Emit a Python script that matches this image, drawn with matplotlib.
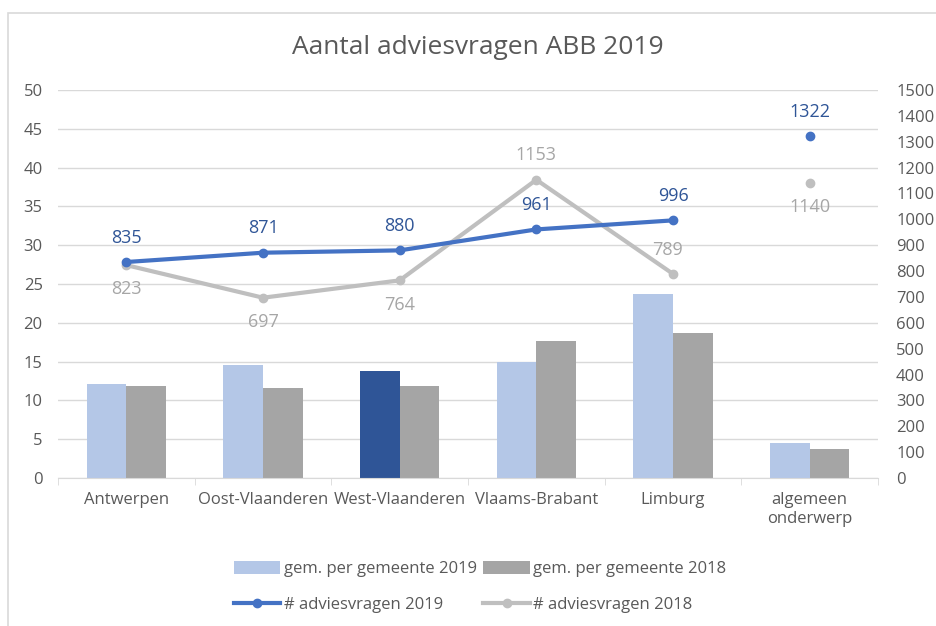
import numpy as np
import matplotlib
matplotlib.use("Agg")
import matplotlib.pyplot as plt
from matplotlib.patches import Rectangle

plt.rcParams['font.family'] = ['Open Sans', 'DejaVu Sans']

# data
categories = ["Antwerpen", "Oost-Vlaanderen", "West-Vlaanderen", "Vlaams-Brabant", "Limburg", "algemeen\nonderwerp"]
gem_2019 = [12.1, 14.6, 13.8, 14.9, 23.7, 4.5]
gem_2018 = [11.9, 11.6, 11.9, 17.7, 18.7, 3.8]
advies_2019 = [835, 871, 880, 961, 996, 1322]
advies_2018 = [823, 697, 764, 1153, 789, 1140]

c_bar19 = "#B4C7E7"
c_bar18 = "#A5A5A5"
c_west = "#2F5597"
c_line19 = "#4472C4"
c_line18 = "#BFBFBF"
c_txt = "#595959"

fig = plt.figure(figsize=(9.36, 6.26), dpi=100)
fig.patches.append(Rectangle((8/936, -0.1), 1.0, 1 - 13/626 + 0.1, transform=fig.transFigure,
                             fill=False, edgecolor="#D9D9D9", linewidth=1.2))

ax = fig.add_axes([58/936, 1 - 478/626, (878 - 58)/936, (478 - 90)/626])
ax2 = ax.twinx()
ax.set_zorder(ax2.get_zorder() - 1)
ax.patch.set_visible(True)
ax2.patch.set_visible(False)

x = np.arange(len(categories))
w = 0.29
cols19 = [c_bar19] * len(categories)
cols19[2] = c_west
b19 = ax.bar(x - w/2, gem_2019, w, color=cols19, label="gem. per gemeente 2019", zorder=2)
b19.patches[0].set_facecolor(c_bar19)
b18 = ax.bar(x + w/2, gem_2018, w, color=c_bar18, label="gem. per gemeente 2018", zorder=2)

ax.set_xlim(-0.5, len(categories) - 0.5)
ax.set_ylim(0, 50)
ax.set_yticks(np.arange(0, 51, 5))
ax.grid(axis="y", color="#D9D9D9", linewidth=1, zorder=0)
ax.set_axisbelow(True)
ax.set_xticks(x)
ax.set_xticklabels(categories, fontsize=12, color=c_txt, linespacing=1.25)
ax.set_xticks(np.arange(-0.5, len(categories)), minor=True)
ax.tick_params(axis="x", which="major", length=0, pad=10)
ax.tick_params(axis="x", which="minor", length=5, color="#D9D9D9")
ax.tick_params(axis="y", length=0, labelsize=12, labelcolor=c_txt, pad=11)
for s in ["top", "right", "left"]:
    ax.spines[s].set_visible(False)
ax.spines["bottom"].set_color("#D9D9D9")

n = len(categories) - 1
l19, = ax2.plot(x[:n], advies_2019[:n], color=c_line19, lw=3, marker="o", ms=6,
                label="# adviesvragen 2019", zorder=4)
ax2.plot(x[n], advies_2019[n], color=c_line19, marker="o", ms=6, ls="none", zorder=4)
l18, = ax2.plot(x[:n], advies_2018[:n], color=c_line18, lw=3, marker="o", ms=6,
                label="# adviesvragen 2018", zorder=3)
ax2.plot(x[n], advies_2018[n], color=c_line18, marker="o", ms=6, ls="none", zorder=3)

ax2.set_ylim(0, 1500)
ax2.set_yticks(np.arange(0, 1501, 100))
ax2.tick_params(axis="y", length=0, labelsize=12, labelcolor=c_txt, pad=13)
for s in ax2.spines.values():
    s.set_visible(False)

# data labels
for i, v in enumerate(advies_2019):
    ax2.annotate(str(v), (x[i], v), xytext=(0, 11), textcoords="offset points",
                 ha="center", va="bottom", fontsize=13, color="#2F5597")
pos18 = ["below", "below", "below", "above", "above", "below"]
for i, v in enumerate(advies_2018):
    dy = 11 if pos18[i] == "above" else -11
    ax2.annotate(str(v), (x[i], v), xytext=(-4 if i == 4 else 0, dy), textcoords="offset points",
                 ha="center", va="bottom" if dy > 0 else "top", fontsize=13, color="#A6A6A6")

fig.text(478/936, 1 - 47/626, "Aantal adviesvragen ABB 2019", ha="center", va="center",
         fontsize=19, color=c_txt)

fig.legend(handles=[b19, l19, b18, l18], loc="center", bbox_to_anchor=(480/936, 1 - 587/626),
           ncol=2, frameon=False, fontsize=12, labelcolor=c_txt, handlelength=2.8,
           handleheight=0.8, handletextpad=0.2, columnspacing=0.4, labelspacing=1.15)

fig.savefig("out.png", dpi=100)
